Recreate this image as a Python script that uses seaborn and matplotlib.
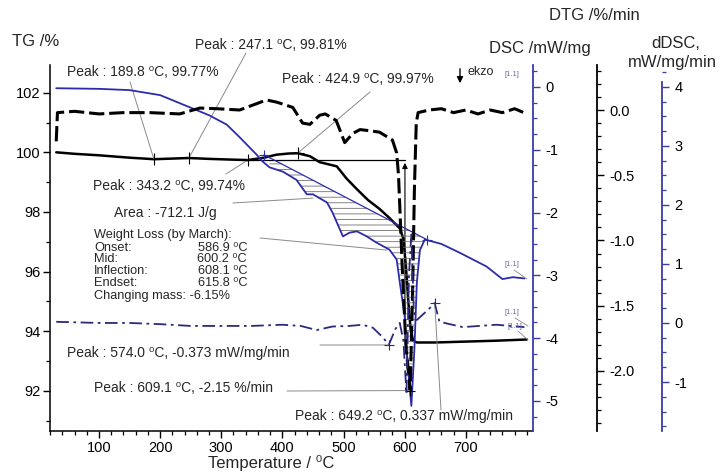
import numpy as np
import seaborn as sns
import matplotlib.pyplot as plt
from matplotlib.ticker import MultipleLocator, FixedLocator, FormatStrFormatter

#Curve values
temp_tg = [30, 60, 100, 150, 190, 220, 247, 280, 310, 343, 370, 390, 410, 425, 445, 461, 475, 489,
           505, 522, 540, 559, 575, 592, 598, 602, 606, 610, 614, 620, 650, 700, 750, 800]
tg = [100.0, 99.95, 99.9, 99.82, 99.77, 99.79, 99.81, 99.78, 99.76, 99.74, 99.82, 99.92, 99.96, 99.97,
      99.87, 99.67, 99.6, 99.53, 99.12, 98.76, 98.4, 98.1, 97.8, 97.45, 97.1, 96.2, 95.0, 94.0,
      93.68, 93.62, 93.62, 93.65, 93.68, 93.72]

temp_dtg = [30, 32, 60, 100, 140, 183, 232, 265, 293, 330, 374, 391, 417, 433, 445, 461, 470, 488,
            502, 515, 527, 545, 559, 580, 587, 590, 596, 602, 609, 613, 616, 619, 622, 640, 660,
            680, 700, 720, 740, 760, 780, 795]
dtg = [-0.24, -0.02, -0.01, -0.03, -0.02, -0.02, -0.03, 0.015, 0.01, 0.0, 0.077, 0.06, 0.02, -0.1,
       -0.11, -0.04, -0.03, -0.08, -0.25, -0.18, -0.15, -0.16, -0.17, -0.23, -0.33, -0.5, -1.2,
       -1.8, -2.15, -1.4, -0.6, -0.1, -0.02, 0.0, 0.01, -0.02, 0.0, -0.03, 0.0, -0.02, 0.01, -0.02]

temp_dsc = [30, 100, 150, 200, 250, 280, 309, 330, 358, 368, 379, 401, 423, 440, 450, 473, 482, 499,
            510, 522, 538, 554, 575, 587, 592, 600, 605, 611, 616, 620, 625, 633, 660, 690, 734,
            760, 777, 796]
dsc = [-0.02, -0.03, -0.05, -0.13, -0.33, -0.45, -0.6, -0.8, -1.08, -1.19, -1.28, -1.35, -1.48,
       -1.71, -1.71, -1.84, -2.0, -2.38, -2.32, -2.3, -2.38, -2.48, -2.59, -2.75, -3.11, -3.65,
       -4.44, -5.08, -4.17, -3.11, -2.6, -2.43, -2.5, -2.64, -2.86, -3.06, -3.03, -3.05]

temp_ddsc = [30, 100, 150, 200, 250, 300, 350, 400, 430, 456, 482, 510, 531, 548, 565, 574, 585,
             592, 598, 603, 607, 611, 615, 620, 641, 649, 657, 695, 750, 796]
ddsc = [0.02, 0.0, 0.0, -0.02, -0.05, -0.05, -0.05, -0.03, -0.05, -0.12, -0.06, -0.05, -0.03, -0.08,
        -0.25, -0.373, -0.1, 0.0, -0.3, -1.2, 0.8, 1.5, 0.2, 0.05, 0.25, 0.337, 0.02, -0.07, -0.03,
        -0.07]

#Peaks
tg_peak_t = [189.8, 247.1, 343.2, 424.9]
tg_peak_v = [99.77, 99.81, 99.74, 99.97]
dtg_peak_t, dtg_peak_v = 609.1, -2.15
ddsc_peak_t = [574.0, 649.2]
ddsc_peak_v = [-0.373, 0.337]

#Area baseline on DSC
area_t = [370, 636]
area_v = [-1.08, -2.43]

#Weight loss by March
wl_names = ['Onset:', 'Mid:', 'Inflection:', 'Endset:']
wl_values = [586.9, 600.2, 608.1, 615.8]
wl_mass = -6.15
wl_start, wl_end = 343.2, 600.5

W, H = 724, 476
BLUE = '#2c2cab'
NAVY = '#2a2a7c'
SPINE_BLUE = '#3c3ca8'
GREY = '#8a8a8a'


def fp(x, y):
    return (x / W, 1 - y / H)


sns.set_style('ticks')
plt.rcParams['font.family'] = ['Liberation Sans', 'DejaVu Sans']
plt.rcParams['hatch.linewidth'] = 0.6

fig = plt.figure(figsize=(7.24, 4.76), dpi=100)
ax = fig.add_axes([50 / W, 1 - 431 / H, 483 / W, 366 / H])
ax.patch.set_alpha(0)
ax_dsc = ax.twinx()
ax_dtg = ax.twinx()
ax_ddsc = ax.twinx()

#TG
sns.lineplot(x=temp_tg, y=tg, color='black', lw=1.8, sort=False, estimator=None, ax=ax)
ax.scatter(tg_peak_t, tg_peak_v, marker='+', s=70, color='black', linewidths=0.8, zorder=4)
ax.plot([wl_start, wl_end], [tg_peak_v[2], tg_peak_v[2]], color='black', lw=0.9)
ax.annotate('', xy=(wl_end, tg_peak_v[2]), xytext=(wl_end, tg[-4]),
            arrowprops=dict(arrowstyle='-|>', color='black', lw=0.8, mutation_scale=8))

#DTG
sns.lineplot(x=temp_dtg, y=dtg, color='black', lw=2.2, linestyle=(0, (5, 1.6)),
             sort=False, estimator=None, ax=ax_dtg)
ax_dtg.scatter([dtg_peak_t], [dtg_peak_v], marker='+', s=60, color='black', linewidths=0.8, zorder=4)

#DSC
sns.lineplot(x=temp_dsc, y=dsc, color=BLUE, lw=1.3, sort=False, estimator=None, ax=ax_dsc)
sel_t = np.array([t for t in temp_dsc if area_t[0] <= t <= area_t[1]] + [area_t[1]], dtype=float)
sel_v = np.interp(sel_t, temp_dsc, dsc)
base_v = np.interp(sel_t, area_t, area_v)
ax_dsc.fill_between(sel_t, base_v, sel_v, where=sel_v <= base_v, interpolate=True,
                    facecolor='none', edgecolor='#707070', hatch='---', lw=0)
ax_dsc.plot(area_t, area_v, color=BLUE, lw=0.9)
ax_dsc.scatter(area_t, area_v, marker='+', s=50, color=BLUE, linewidths=0.8, zorder=4)

#dDSC
sns.lineplot(x=temp_ddsc, y=ddsc, color=NAVY, lw=1.3, linestyle=(0, (7, 2.5, 1.5, 2.5)),
             sort=False, estimator=None, ax=ax_ddsc)
ax_ddsc.scatter(ddsc_peak_t, ddsc_peak_v, marker='+', s=60, color=NAVY, linewidths=0.8, zorder=4)

#Limits
ax.set_xlim(19.8, 810)
ax.set_ylim(90.65, 102.93)
ax_dsc.set_ylim(-5.48, 0.35)
ax_dtg.set_ylim(-2.46, 0.345)
ax_ddsc.set_ylim(-1.83, 4.37)

#Axes and ticks
ax.spines['top'].set_visible(False)
ax.spines['right'].set_visible(False)
for s in ['left', 'bottom']:
    ax.spines[s].set_color('black')
    ax.spines[s].set_linewidth(1.1)
ax.xaxis.set_major_locator(FixedLocator([100, 200, 300, 400, 500, 600, 700]))
ax.xaxis.set_minor_locator(MultipleLocator(20))
ax.yaxis.set_major_locator(MultipleLocator(2))
ax.yaxis.set_minor_locator(MultipleLocator(1))
ax.tick_params(which='major', direction='out', length=5, width=1, labelsize=10.5, pad=2, colors='black')
ax.tick_params(which='minor', direction='out', length=3, width=0.9, colors='black')
ax.set_xlabel('')
ax.set_ylabel('')

for a, pos, col, major, minor, fmt in [(ax_dsc, 1.0, SPINE_BLUE, 1, 0.25, '%d'),
                                        (ax_dtg, (597 - 50) / 483, 'black', 0.5, 0.1, '%.1f'),
                                        (ax_ddsc, (662 - 50) / 483, SPINE_BLUE, 1, 0.25, '%d')]:
    for s in ['top', 'left', 'bottom']:
        a.spines[s].set_visible(False)
    a.spines['right'].set_position(('axes', pos))
    a.spines['right'].set_color(col)
    a.spines['right'].set_linewidth(1.3)
    a.yaxis.set_major_locator(MultipleLocator(major))
    a.yaxis.set_minor_locator(MultipleLocator(minor))
    a.yaxis.set_major_formatter(FormatStrFormatter(fmt))
    a.tick_params(axis='y', which='major', direction='out', length=5, width=1, color=col,
                  labelsize=10.5, labelcolor='black', pad=4)
    a.tick_params(axis='y', which='minor', direction='out', length=3, width=0.9, color=col)
    a.set_ylabel('')
ax_ddsc.spines['right'].set_bounds(-1.83, 4.08)
ax_dsc.set_yticks([0, -1, -2, -3, -4, -5])
ax_dtg.set_yticks([0.0, -0.5, -1.0, -1.5, -2.0])
ax_ddsc.set_yticks([-1, 0, 1, 2, 3, 4])

#Axis titles
fig.text(*fp(12, 42), 'TG /%', fontsize=12, va='center', ha='left')
fig.text(*fp(594, 15), 'DTG /%/min', fontsize=12, va='center', ha='center')
fig.text(*fp(540, 48), 'DSC /mW/mg', fontsize=12, va='center', ha='center')
fig.text(*fp(676, 43), 'dDSC,', fontsize=12, va='center', ha='center')
fig.text(*fp(672, 63), 'mW/mg/min', fontsize=12, va='center', ha='center')
fig.text(*fp(271, 463), 'Temperature / ⁰C', fontsize=12, va='center', ha='center')

#Peak labels with leader lines
leader = dict(arrowstyle='-', color=GREY, lw=0.7, shrinkA=0, shrinkB=0)
tg_text_pos = [(67, 72), (195, 45), (93, 186), (282, 79)]
tg_leader_pos = [(130, 82), (246, 53), (226, 174), (370, 92)]
for t, v, tp, lp in zip(tg_peak_t, tg_peak_v, tg_text_pos, tg_leader_pos):
    fig.text(*fp(*tp), f'Peak : {t:.1f} ⁰C, {v:.2f}%', fontsize=10, va='center', ha='left')
    ax.annotate('', xy=(t, v), xytext=fp(*lp), textcoords='figure fraction', arrowprops=leader)

fig.text(*fp(114, 213), 'Area : -712.1 J/g', fontsize=10, va='center', ha='left')
ax_dsc.annotate('', xy=(450, -1.77), xytext=fp(233, 203), textcoords='figure fraction', arrowprops=leader)

wl_font = 9.2
fig.text(*fp(94, 235), 'Weight Loss (by March):', fontsize=wl_font, va='center', ha='left')
for i, (n, val) in enumerate(zip(wl_names, wl_values)):
    y = 247.5 + i * 12
    fig.text(*fp(94, y), n, fontsize=wl_font, va='center', ha='left')
    fig.text(*fp(247, y), f'{val:.1f} ⁰C', fontsize=wl_font, va='center', ha='right')
fig.text(*fp(94, 296), f'Changing mass: {wl_mass:.2f}%', fontsize=wl_font, va='center', ha='left')
ax.annotate('', xy=(571, 96.72), xytext=fp(260, 238), textcoords='figure fraction', arrowprops=leader)

fig.text(*fp(67, 353), f'Peak : {ddsc_peak_t[0]:.1f} ⁰C, {ddsc_peak_v[0]:.3f} mW/mg/min',
         fontsize=10, va='center', ha='left')
ax_ddsc.annotate('', xy=(ddsc_peak_t[0], ddsc_peak_v[0]), xytext=fp(320, 345),
                 textcoords='figure fraction', arrowprops=leader)
fig.text(*fp(94, 388), f'Peak : {dtg_peak_t:.1f} ⁰C, {dtg_peak_v:.2f} %/min',
         fontsize=10, va='center', ha='left')
ax_dtg.annotate('', xy=(dtg_peak_t, dtg_peak_v), xytext=fp(287, 391),
                textcoords='figure fraction', arrowprops=leader)
fig.text(*fp(295, 416), f'Peak : {ddsc_peak_t[1]:.1f} ⁰C, {ddsc_peak_v[1]:.3f} mW/mg/min',
         fontsize=10, va='center', ha='left')
ax_ddsc.annotate('', xy=(ddsc_peak_t[1], ddsc_peak_v[1]), xytext=fp(441, 410),
                 textcoords='figure fraction', arrowprops=leader)

#ekzo arrow
ax.annotate('', xy=fp(460, 86), xytext=fp(460, 66), xycoords='figure fraction',
            textcoords='figure fraction',
            arrowprops=dict(arrowstyle='-|>', color='black', lw=1.0, mutation_scale=9))
fig.text(*fp(468, 72), 'ekzo', fontsize=9, va='center', ha='left')

#Curve tags
tag = dict(fontsize=5.5, color='#6a6aa8', va='center', ha='center')
fig.text(*fp(512, 75), '[1.1]', **tag)
fig.text(*fp(512, 264), '[1.1]', **tag)
fig.text(*fp(512, 312), '[1.1]', **tag)
fig.text(*fp(515, 326), '[1.1]', **tag)
for (x0, y0), (x1, y1) in [((514, 270), (527, 279)), ((515, 318), (528, 326)), ((518, 331), (528, 340))]:
    fig.add_artist(plt.Line2D([x0 / W, x1 / W], [1 - y0 / H, 1 - y1 / H], color=GREY, lw=0.6))

fig.savefig('out.png', dpi=100)
